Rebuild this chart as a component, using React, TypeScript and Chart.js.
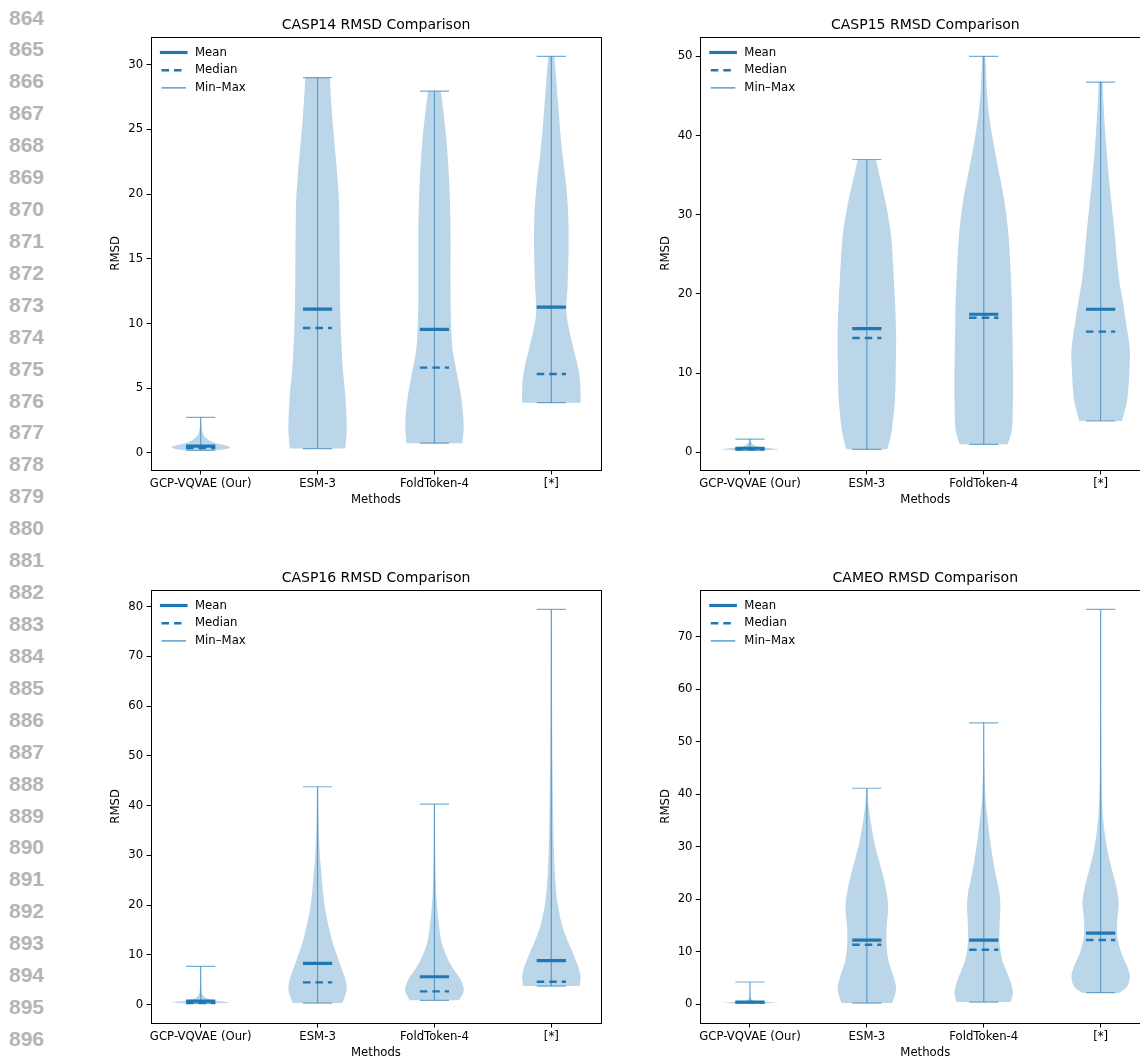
import React, { useEffect, useRef } from 'react';
import { Chart, registerables } from 'chart.js';

Chart.register(...registerables);

// ---------------- data ----------------
const methods = ['GCP-VQVAE (Our)', 'ESM-3', 'FoldToken-4', '[*]'];
const positions = [1, 2, 3, 4];

// CASP14
const casp14Min = [0.2, 0.33, 0.75, 3.88];
const casp14Max = [2.75, 29.0, 27.95, 30.64];
const casp14Mean = [0.52, 11.11, 9.54, 11.27];
const casp14Median = [0.38, 9.65, 6.59, 6.1];
const casp14Ticks = [0, 5, 10, 15, 20, 25, 30];
const casp14ProfileY = [
  [0.2, 0.3, 0.42, 0.55, 0.7, 0.9, 1.1, 1.3, 1.6, 2.0, 2.4, 2.75],
  [0.33, 1.8, 4.1, 6.7, 9.3, 11.9, 14.4, 17.0, 19.6, 21.6, 23.4, 25.2, 27.0, 29.0],
  [0.75, 2.1, 4.1, 5.9, 8.0, 10.6, 13.1, 17.0, 20.1, 22.7, 24.7, 26.5, 27.6, 27.95],
  [3.88, 4.9, 6.2, 7.7, 9.3, 10.8, 13.1, 15.7, 18.3, 20.6, 22.7, 24.7, 27.3, 29.4, 30.64],
];
const casp14ProfileW = [
  [0.55, 0.85, 1.0, 0.9, 0.6, 0.35, 0.22, 0.12, 0.06, 0.03, 0.015, 0.01],
  [0.95, 1.0, 0.96, 0.86, 0.8, 0.77, 0.76, 0.75, 0.73, 0.67, 0.6, 0.53, 0.47, 0.42],
  [0.96, 1.0, 0.93, 0.79, 0.62, 0.56, 0.55, 0.55, 0.52, 0.46, 0.39, 0.3, 0.24, 0.22],
  [1.0, 1.0, 0.95, 0.8, 0.63, 0.52, 0.56, 0.59, 0.58, 0.51, 0.4, 0.31, 0.22, 0.15, 0.1],
];

// CASP15
const casp15Min = [0.26, 0.38, 1.01, 3.96];
const casp15Max = [1.68, 36.98, 50.0, 46.76];
const casp15Mean = [0.52, 15.63, 17.44, 18.07];
const casp15Median = [0.4, 14.45, 17.0, 15.25];
const casp15Ticks = [0, 10, 20, 30, 40, 50];
const casp15ProfileY = [
  [0.26, 0.35, 0.42, 0.5, 0.6, 0.75, 0.9, 1.1, 1.3, 1.5, 1.68],
  [0.38, 2.4, 6.6, 10.8, 15.0, 19.3, 23.5, 26.5, 28.7, 30.8, 33.0, 35.0, 36.98],
  [1.01, 2.8, 6.6, 10.8, 15.0, 19.3, 23.5, 27.7, 31.9, 36.1, 39.5, 42.4, 45.4, 48.7, 50.0],
  [3.96, 6.6, 10.8, 12.9, 15.0, 17.1, 19.3, 21.4, 24.3, 27.7, 31.9, 36.1, 40.3, 44.5, 46.76],
];
const casp15ProfileW = [
  [0.5, 0.9, 1.0, 0.75, 0.45, 0.25, 0.15, 0.08, 0.04, 0.02, 0.01],
  [0.7, 0.84, 0.96, 0.99, 1.0, 0.96, 0.9, 0.85, 0.78, 0.68, 0.56, 0.43, 0.31],
  [0.82, 0.96, 1.0, 1.0, 0.98, 0.96, 0.91, 0.84, 0.7, 0.48, 0.31, 0.19, 0.11, 0.07, 0.05],
  [0.73, 0.91, 0.99, 1.0, 0.93, 0.84, 0.75, 0.65, 0.56, 0.48, 0.36, 0.25, 0.16, 0.09, 0.07],
];

// CASP16
const casp16Min = [0.28, 0.33, 0.87, 3.75];
const casp16Max = [7.7, 43.8, 40.3, 79.45];
const casp16Mean = [0.7, 8.3, 5.62, 8.84];
const casp16Median = [0.33, 4.48, 2.68, 4.62];
const casp16Ticks = [0, 10, 20, 30, 40, 50, 60, 70, 80];
const casp16ProfileY = [
  [0.28, 0.4, 0.6, 0.9, 1.2, 1.6, 2.2, 3.0, 4.0, 5.5, 7.7],
  [0.33, 2.3, 3.7, 5.7, 9.0, 12.4, 15.7, 19.1, 22.4, 25.8, 29.1, 32.5, 35.8, 39.2, 43.8],
  [0.87, 2.3, 3.3, 5.0, 7.0, 9.0, 12.4, 15.7, 19.1, 22.4, 29.1, 40.3],
  [3.75, 5.7, 7.7, 10.4, 13.1, 15.7, 19.1, 22.4, 29.1, 35.8, 49.2, 62.6, 79.45],
];
const casp16ProfileW = [
  [0.6, 1.0, 0.8, 0.45, 0.25, 0.12, 0.05, 0.03, 0.02, 0.015, 0.01],
  [0.85, 0.97, 1.0, 0.92, 0.72, 0.52, 0.38, 0.26, 0.19, 0.14, 0.09, 0.06, 0.04, 0.03, 0.02],
  [0.84, 0.98, 1.0, 0.9, 0.67, 0.47, 0.25, 0.16, 0.1, 0.06, 0.03, 0.015],
  [0.97, 1.0, 0.92, 0.74, 0.54, 0.38, 0.25, 0.17, 0.1, 0.07, 0.04, 0.025, 0.015],
];

// CAMEO
const cameoMin = [0.2, 0.25, 0.44, 2.22];
const cameoMax = [4.26, 41.15, 53.6, 75.2];
const cameoMean = [0.45, 12.24, 12.24, 13.57];
const cameoMedian = [0.38, 11.35, 10.4, 12.24];
const cameoTicks = [0, 10, 20, 30, 40, 50, 60, 70];
const cameoProfileY = [
  [0.2, 0.3, 0.45, 0.6, 0.8, 1.0, 1.5, 2.5, 4.26],
  [0.25, 2.2, 3.4, 6.0, 8.5, 11.7, 14.8, 18.6, 21.2, 24.4, 27.5, 30.7, 33.9, 36.4, 38.9, 41.15],
  [0.44, 2.2, 4.1, 6.6, 8.5, 11.7, 14.8, 18.6, 21.2, 24.4, 27.5, 30.7, 33.9, 37.7, 41.5, 46.5, 53.6],
  [2.22, 3.4, 5.3, 7.2, 9.8, 12.9, 16.1, 19.3, 22.4, 25.6, 28.8, 32.6, 36.4, 43.4, 52.9, 75.2],
];
const cameoProfileW = [
  [0.5, 1.0, 0.6, 0.25, 0.1, 0.05, 0.02, 0.01, 0.005],
  [0.87, 0.98, 1.0, 0.87, 0.73, 0.67, 0.68, 0.73, 0.68, 0.56, 0.41, 0.26, 0.16, 0.09, 0.04, 0.02],
  [0.93, 1.0, 0.93, 0.76, 0.63, 0.54, 0.54, 0.57, 0.54, 0.42, 0.32, 0.23, 0.16, 0.08, 0.04, 0.02, 0.01],
  [0.65, 0.91, 1.0, 0.91, 0.71, 0.57, 0.57, 0.62, 0.54, 0.39, 0.25, 0.14, 0.07, 0.03, 0.02, 0.01],
];

const lineNumbers = [
  864, 865, 866, 867, 868, 869, 870, 871, 872, 873, 874, 875, 876, 877, 878, 879, 880,
  881, 882, 883, 884, 885, 886, 887, 888, 889, 890, 891, 892, 893, 894, 895, 896,
];

// ---------------- styles ----------------
const C0 = '#1f77b4';
const BODY = 'rgba(31,119,180,0.3)';
const BAR = 'rgba(31,119,180,0.6)';
const FONT = "'DejaVu Sans', sans-serif";
const VIOLIN_WIDTH = 0.5;
const TICK_SIZE = 11.7;

type Panel = {
  title: string;
  mins: number[];
  maxs: number[];
  means: number[];
  medians: number[];
  ticks: number[];
  profY: number[][];
  profW: number[][];
  left: number;
  top: number;
  width: number;
  padLeft: number;
  padRight: number;
  yAxisWidth: number;
};

const panels: Panel[] = [
  {
    title: 'CASP14 RMSD Comparison', mins: casp14Min, maxs: casp14Max, means: casp14Mean, medians: casp14Median,
    ticks: casp14Ticks, profY: casp14ProfileY, profW: casp14ProfileW,
    left: 100, top: 0, width: 520, padLeft: 9, padRight: 19, yAxisWidth: 42,
  },
  {
    title: 'CASP15 RMSD Comparison', mins: casp15Min, maxs: casp15Max, means: casp15Mean, medians: casp15Median,
    ticks: casp15Ticks, profY: casp15ProfileY, profW: casp15ProfileW,
    left: 620, top: 0, width: 550, padLeft: 38.7, padRight: 19.7, yAxisWidth: 41.6,
  },
  {
    title: 'CASP16 RMSD Comparison', mins: casp16Min, maxs: casp16Max, means: casp16Mean, medians: casp16Median,
    ticks: casp16Ticks, profY: casp16ProfileY, profW: casp16ProfileW,
    left: 100, top: 553, width: 520, padLeft: 9, padRight: 19, yAxisWidth: 42,
  },
  {
    title: 'CAMEO RMSD Comparison', mins: cameoMin, maxs: cameoMax, means: cameoMean, medians: cameoMedian,
    ticks: cameoTicks, profY: cameoProfileY, profW: cameoProfileW,
    left: 620, top: 553, width: 550, padLeft: 38.7, padRight: 19.7, yAxisWidth: 41.6,
  },
];

const legendItems = [
  { label: 'Mean', color: C0, width: 3.2, dash: [] as number[], cap: 'square' },
  { label: 'Median', color: C0, width: 2.4, dash: [7.5, 5], cap: 'butt' },
  { label: 'Min\u2013Max', color: 'rgba(31,119,180,0.9)', width: 1.2, dash: [] as number[], cap: 'butt' },
];

function violinPolygon(pos: number, ys: number[], ws: number[]) {
  const half = VIOLIN_WIDTH / 2;
  const right = ys.map((y, i) => ({ x: pos + ws[i] * half, y }));
  const left = ys.map((y, i) => ({ x: pos - ws[i] * half, y })).reverse();
  const rt = right[right.length - 1];
  const lt = left[0];
  return [...right, { ...rt }, { ...lt }, ...left];
}

function buildDatasets(p: Panel) {
  const cap = VIOLIN_WIDTH / 4;
  const ds: any[] = [];
  const base = { pointRadius: 0, pointHoverRadius: 0, fill: false, tension: 0 };
  positions.forEach((pos, i) => {
    ds.push({ ...base, data: [{ x: pos - cap, y: p.means[i] }, { x: pos + cap, y: p.means[i] }], borderColor: C0, borderWidth: 3.2, order: 0 });
    ds.push({ ...base, data: [{ x: pos - cap, y: p.medians[i] }, { x: pos + cap, y: p.medians[i] }], borderColor: C0, borderWidth: 2.4, borderDash: [7.5, 5], order: 0 });
    ds.push({ ...base, data: [{ x: pos, y: p.mins[i] }, { x: pos, y: p.maxs[i] }], borderColor: BAR, borderWidth: 1.2, order: 1 });
    ds.push({ ...base, data: [{ x: pos - cap, y: p.mins[i] }, { x: pos + cap, y: p.mins[i] }], borderColor: BAR, borderWidth: 1.2, order: 1 });
    ds.push({ ...base, data: [{ x: pos - cap, y: p.maxs[i] }, { x: pos + cap, y: p.maxs[i] }], borderColor: BAR, borderWidth: 1.2, order: 1 });
    ds.push({
      ...base,
      data: violinPolygon(pos, p.profY[i], p.profW[i]),
      fill: 'shape',
      backgroundColor: BODY,
      borderColor: 'rgba(0,0,0,0)',
      borderWidth: 0,
      tension: 0.3,
      order: 2,
    });
  });
  return ds;
}

const decorPlugin = {
  id: 'decor',
  afterDatasetsDraw(chart: any) {
    const { ctx, chartArea: a } = chart;
    ctx.save();
    legendItems.forEach((it, i) => {
      const y = a.top + 15.8 + i * 17.7;
      ctx.beginPath();
      ctx.strokeStyle = it.color;
      ctx.lineWidth = it.width;
      ctx.lineCap = it.cap;
      ctx.setLineDash(it.dash);
      ctx.moveTo(a.left + 10.5, y);
      ctx.lineTo(a.left + 35, y);
      ctx.stroke();
      ctx.setLineDash([]);
      ctx.fillStyle = '#000';
      ctx.font = `${TICK_SIZE}px ${FONT}`;
      ctx.textBaseline = 'middle';
      ctx.textAlign = 'left';
      ctx.fillText(it.label, a.left + 44, y);
    });
    ctx.restore();
  },
  afterDraw(chart: any) {
    const { ctx, chartArea: a } = chart;
    const L = Math.round(a.left), T = Math.round(a.top), R = Math.round(a.right), B = Math.round(a.bottom);
    ctx.save();
    ctx.strokeStyle = '#000';
    ctx.lineWidth = 1;
    ctx.strokeRect(L + 0.5, T + 0.5, R - L, B - T);
    ctx.restore();
  },
};

function makeConfig(p: Panel): any {
  const lo = Math.min(...p.mins);
  const hi = Math.max(...p.maxs);
  const ym = (hi - lo) * 0.05;
  const xlo = Math.min(...positions) - VIOLIN_WIDTH / 2;
  const xhi = Math.max(...positions) + VIOLIN_WIDTH / 2;
  const xm = (xhi - xlo) * 0.05;
  const tickFont = { family: FONT, size: TICK_SIZE };
  const grid = { display: true, drawOnChartArea: false, drawTicks: true, tickLength: 4.5, tickColor: '#000', tickWidth: 1 };
  return {
    type: 'line',
    data: { datasets: buildDatasets(p) },
    options: {
      animation: false,
      responsive: false,
      devicePixelRatio: 1,
      events: [],
      layout: { padding: { left: p.padLeft, right: p.padRight, top: 0, bottom: 13 } },
      plugins: {
        legend: { display: false },
        tooltip: { enabled: false },
        title: {
          display: true,
          text: p.title,
          fullSize: false,
          color: '#000',
          font: { family: FONT, size: 14, weight: 'normal', lineHeight: 1.2 },
          padding: { top: 16.6, bottom: 3.3 },
        },
      },
      scales: {
        x: {
          type: 'linear',
          bounds: 'data',
          min: xlo - xm,
          max: xhi + xm,
          afterBuildTicks: (s: any) => { s.ticks = positions.map((v) => ({ value: v })); },
          afterFit: (s: any) => { s.height = 37; },
          ticks: {
            autoSkip: false, maxRotation: 0, minRotation: 0, padding: 2.5, color: '#000', font: tickFont,
            callback: (v: any) => methods[positions.indexOf(Number(v))] ?? '',
          },
          grid,
          border: { display: false },
          title: { display: true, text: 'Methods', color: '#000', font: tickFont, padding: 0 },
        },
        y: {
          type: 'linear',
          bounds: 'data',
          min: lo - ym,
          max: hi + ym,
          afterBuildTicks: (s: any) => { s.ticks = p.ticks.map((v) => ({ value: v })); },
          afterFit: (s: any) => { s.width = p.yAxisWidth; },
          ticks: { padding: 3.3, color: '#000', font: tickFont, callback: (v: any) => String(v) },
          grid,
          border: { display: false },
          title: { display: true, text: 'RMSD', color: '#000', font: tickFont, padding: 0 },
        },
      },
    },
    plugins: [decorPlugin],
  };
}

function ViolinPanel({ panel }: { panel: Panel }) {
  const ref = useRef<HTMLCanvasElement | null>(null);
  useEffect(() => {
    if (!ref.current) return;
    const chart = new Chart(ref.current, makeConfig(panel));
    return () => chart.destroy();
  }, [panel]);
  return (
    <canvas
      ref={ref}
      width={panel.width}
      height={520}
      style={{ position: 'absolute', left: panel.left, top: panel.top, width: panel.width, height: 520 }}
    />
  );
}

export default function App() {
  return (
    <div
      style={{
        position: 'fixed', left: 0, top: 0, width: 1140, height: 1060,
        overflow: 'hidden', background: '#fff',
      }}
    >
      {lineNumbers.map((n, i) => (
        <div
          key={n}
          style={{
            position: 'absolute', left: 9, top: 17.5 + i * 31.92 - 16, height: 32, lineHeight: '32px',
            fontFamily: "'Liberation Sans', Arial, sans-serif", fontWeight: 'bold', fontSize: 21, color: '#b4b4b4',
            whiteSpace: 'nowrap',
          }}
        >
          {n}
        </div>
      ))}
      {panels.map((p) => (
        <ViolinPanel key={p.title} panel={p} />
      ))}
    </div>
  );
}
